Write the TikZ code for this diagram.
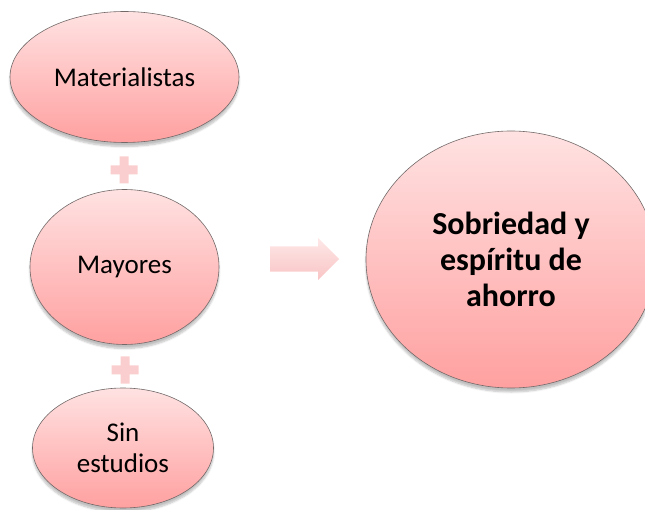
\documentclass[tikz,border=0pt]{standalone}
\usepackage{fontspec}
\setmainfont{Carlito}
\usetikzlibrary{shapes.geometric,shapes.arrows,shadows.blur}
\definecolor{pinkTop}{RGB}{255,226,226}
\definecolor{pinkBot}{RGB}{255,160,160}
\definecolor{pinkEdge}{RGB}{115,105,105}
\definecolor{plusPink}{RGB}{250,206,206}
\definecolor{arrowTop}{RGB}{254,232,232}
\definecolor{arrowBot}{RGB}{249,196,196}
\tikzset{
  factor/.style={ellipse, draw=pinkEdge, line width=0.6pt, top color=pinkTop, bottom color=pinkBot,
    align=center, inner sep=0pt, font=\fontsize{27}{31}\selectfont,
    blur shadow={shadow xshift=0pt, shadow yshift=-4pt, shadow blur steps=6, shadow opacity=25}},
  result/.style={factor, font=\fontsize{32}{36}\selectfont\bfseries},
  flecha/.style={single arrow, top color=arrowTop, bottom color=arrowBot, draw=none,
    minimum height=69pt, inner xsep=0pt, inner ysep=12.5pt, single arrow head extend=8.5pt},
  plusbar/.style={fill=plusPink}
}
\begin{document}
\begin{tikzpicture}[x=1pt,y=-1pt]
\useasboundingbox (0,0) rectangle (645,510);
\node[factor, minimum width=229pt, minimum height=131pt] (mat) at (124.5,77) {Materialistas};
\node[factor, minimum width=189pt, minimum height=155pt] (may) at (124.5,267) {Mayores};
\node[factor, minimum width=181pt, minimum height=120pt] (sin) at (123,448) {Sin\\estudios};
\node[result, minimum width=290pt, minimum height=257pt] (ahorro) at (511,259.5) {Sobriedad y\\espíritu de\\ahorro};
\node[flecha, anchor=tail] (flecha) at (270,259) {};
% plus signs
\coordinate (plusA) at (124,170);
\coordinate (plusB) at (125,370);
\foreach \p in {plusA,plusB}
  \fill[plusbar] (\p) ++(-13.5,-4.5) rectangle ++(27,9) (\p) ++(-4.5,-13.5) rectangle ++(9,27);
\end{tikzpicture}
\end{document}
